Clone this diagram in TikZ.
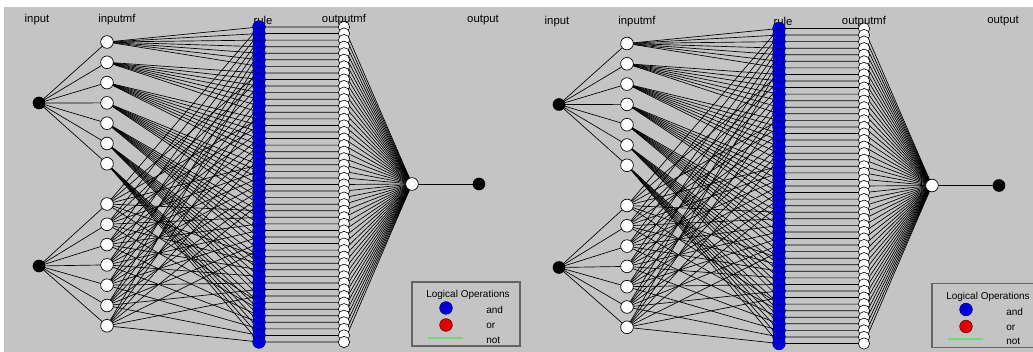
\documentclass[tikz,border=0pt]{standalone}
\usepackage{fontspec}
\setmainfont{Liberation Sans}
\pgfdeclarelayer{bg}
\pgfdeclarelayer{edges}
\pgfsetlayers{bg,edges,main}
\definecolor{panelgray}{RGB}{196,196,196}
\definecolor{ruleblue}{RGB}{0,0,215}
\definecolor{orred}{RGB}{225,0,0}
\definecolor{notgreen}{RGB}{110,220,110}
\definecolor{boxgray}{RGB}{100,100,100}
\begin{document}
\begin{tikzpicture}[x=0.75pt,y=-0.75pt]
    \tikzstyle{every node}+=[inner sep=0pt]
    \tikzstyle{invar}=[circle,fill=black,minimum size=9.5pt]
    \tikzstyle{mfnode}=[circle,draw=black,fill=white,line width=0.5pt,minimum size=9.5pt]
    \tikzstyle{rulenode}=[circle,draw=blue!40!black,fill=ruleblue,line width=0.4pt,minimum size=9.5pt]
    \tikzstyle{ornode}=[circle,draw=red!40!black,fill=orred,line width=0.4pt,minimum size=9.5pt]
    \tikzstyle{outmfnode}=[circle,draw=black,fill=white,line width=0.45pt,minimum size=8.5pt]
    \tikzstyle{wire}=[black,line width=0.5pt]
    \tikzstyle{colname}=[font=\fontsize{8.5}{10}\selectfont]
    \tikzstyle{keytext}=[font=\fontsize{7.5}{8}\selectfont]
    \useasboundingbox (0,0) rectangle (1033,352);
    \begin{pgfonlayer}{bg}
    \fill [panelgray] (4,7) rectangle (1033,352);
    \end{pgfonlayer}
    \foreach \p/\dx/\dy in {a/0/0,b/520/1.5} {
    \begin{scope}[shift={(\dx,\dy)}]
    % column titles
    \node [colname] (\p-tin) at (37,20) {input};
    \node [colname] (\p-tmf) at (117,20) {inputmf};
    \node [colname] (\p-trule) at (263,20) {rule};
    \node [colname] (\p-tomf) at (344,20) {outputmf};
    \node [colname] (\p-tout) at (483,20) {output};
    % nodes
    \node [invar] (\p-in1) at (39,103) {};
    \node [invar] (\p-in2) at (39,266) {};
    \foreach \i in {1,...,7} {
        \node [mfnode] (\p-mfa\i) at (107,{42+20.3*(\i-1)}) {};
        \node [mfnode] (\p-mfb\i) at (107,{204+20.3*(\i-1)}) {};
    }
    \foreach \k in {1,...,49} {
        \node [rulenode] (\p-r\k) at (259,{27+6.5625*(\k-1)}) {};
        \node [outmfnode] (\p-o\k) at (344,{27+6.5625*(\k-1)}) {};
    }
    \node [mfnode] (\p-sum) at (412,184) {};
    \node [invar] (\p-y) at (479,184) {};
    % connections
    \begin{pgfonlayer}{edges}
    \foreach \i in {1,...,7} {
        \draw [wire] (\p-in1.center) -- (\p-mfa\i.center);
        \draw [wire] (\p-in2.center) -- (\p-mfb\i.center);
        \foreach \j in {1,...,7} {
            \pgfmathtruncatemacro\k{7*(\i-1)+\j}
            \draw [wire] (\p-mfa\i.center) -- (\p-r\k.center);
            \draw [wire] (\p-mfb\j.center) -- (\p-r\k.center);
        }
    }
    \foreach \k in {1,...,49} {
        \draw [wire] (\p-r\k.center) -- (\p-o\k.center) -- (\p-sum.center);
    }
    \draw [wire] (\p-sum.center) -- (\p-y.center);
    \end{pgfonlayer}
    % legend
    \draw [boxgray,line width=1pt] (412,282) rectangle (520,346);
    \node [keytext] (\p-ktitle) at (468,295) {Logical Operations};
    \node [rulenode] (\p-kand) at (446,308) {};
    \node [ornode] (\p-kor) at (446,325) {};
    \draw [notgreen,line width=1.5pt] (428,338) -- (463,338);
    \node [keytext,anchor=west] (\p-tand) at (486,310) {and};
    \node [keytext,anchor=west] (\p-tor) at (486,326) {or};
    \node [keytext,anchor=west] (\p-tnot) at (486,340) {not};
    \end{scope}
    }
\end{tikzpicture}
\end{document}
